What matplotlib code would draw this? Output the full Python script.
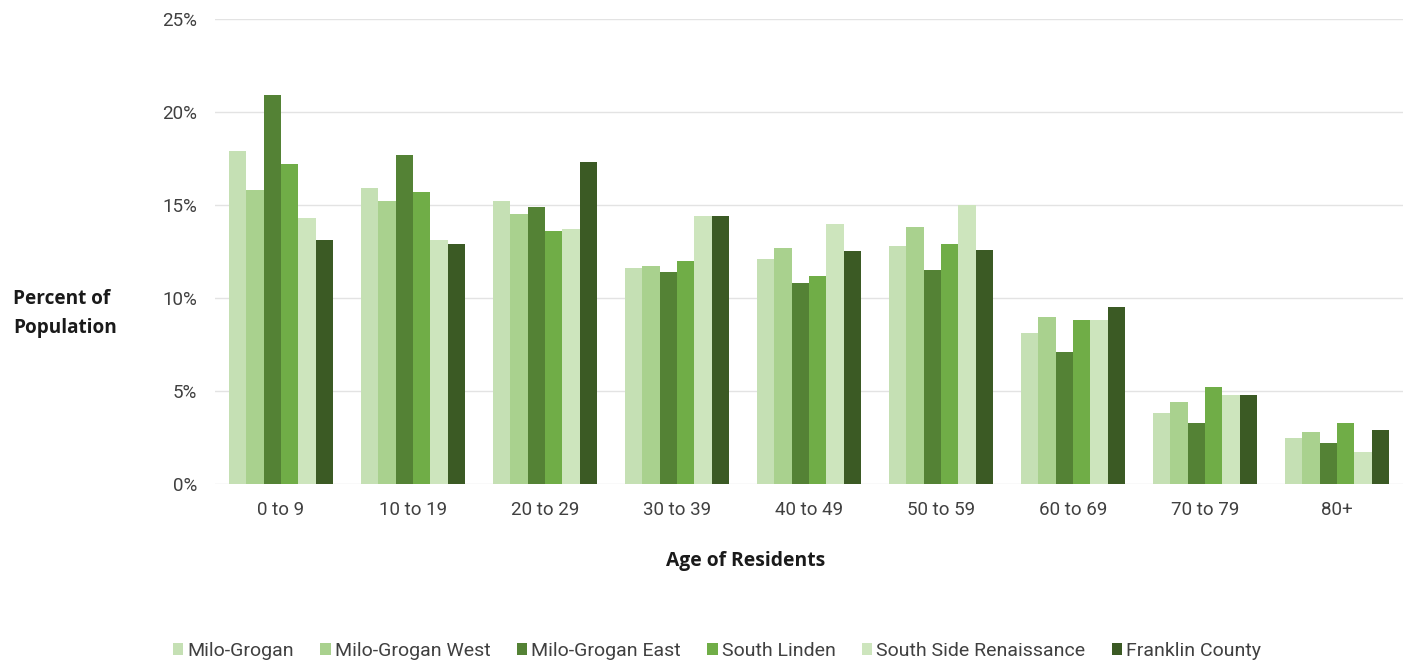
import numpy as np
import matplotlib.pyplot as plt
from matplotlib.ticker import FuncFormatter

# age groups and population share (%) per area
age_groups = ["0 to 9", "10 to 19", "20 to 29", "30 to 39", "40 to 49",
              "50 to 59", "60 to 69", "70 to 79", "80+"]
areas = ["Milo-Grogan", "Milo-Grogan West", "Milo-Grogan East",
         "South Linden", "South Side Renaissance", "Franklin County"]

milo_grogan = [17.9, 15.9, 15.2, 11.6, 12.1, 12.8, 8.1, 3.8, 2.5]
milo_grogan_west = [15.8, 15.2, 14.5, 11.7, 12.7, 13.8, 9.0, 4.4, 2.8]
milo_grogan_east = [20.9, 17.7, 14.9, 11.4, 10.8, 11.5, 7.1, 3.3, 2.2]
south_linden = [17.2, 15.7, 13.6, 12.0, 11.2, 12.9, 8.8, 5.2, 3.3]
south_side_ren = [14.3, 13.1, 13.7, 14.4, 14.0, 15.0, 8.8, 4.8, 1.7]
franklin_county = [13.1, 12.9, 17.3, 14.4, 12.5, 12.6, 9.5, 4.8, 2.9]

series = [milo_grogan, milo_grogan_west, milo_grogan_east,
          south_linden, south_side_ren, franklin_county]
colors = ["#c5e0b4", "#a9d18e", "#548235", "#70ad47", "#cde5bd", "#3b5a24"]

plt.rcParams.update({
    'font.family': ['Roboto', 'DejaVu Sans'],
    'text.color': '#404040',
    'xtick.color': '#404040',
    'ytick.color': '#404040',
})

fig = plt.figure(figsize=(14.06, 6.61), dpi=100)
ax = fig.add_axes([215 / 1406, 1 - 484 / 661, (1403 - 215) / 1406, (484 - 19) / 661])

x = np.arange(len(age_groups))
bw = 0.795 / len(series)
for i, (vals, name, col) in enumerate(zip(series, areas, colors)):
    offs = (i - (len(series) - 1) / 2) * bw
    ax.bar(x + offs, vals, width=bw, color=col, label=name, zorder=3)

ax.set_xlim(-0.5, len(age_groups) - 0.5)
ax.set_ylim(0, 25)
ax.set_yticks(np.arange(0, 26, 5))
ax.yaxis.set_major_formatter(FuncFormatter(lambda v, _: f"{v:.0f}%"))
ax.set_xticks(x)
ax.set_xticklabels(age_groups)
ax.tick_params(axis='both', length=0, labelsize=13.5)
ax.tick_params(axis='y', pad=13)
ax.tick_params(axis='x', pad=12)
ax.grid(axis='y', color='#e3e3e3', lw=1, zorder=0)
for s in ax.spines.values():
    s.set_visible(False)

fig.text(13 / 1406, 1 - 314 / 661, "Percent of\nPopulation", fontsize=13.7,
         fontweight='bold', family=['Open Sans', 'DejaVu Sans'], color='#1a1a1a',
         ha='left', va='center', linespacing=1.6)
fig.text(746 / 1406, 1 - 561 / 661, "Age of Residents", fontsize=13.9,
         fontweight='bold', family=['Open Sans', 'DejaVu Sans'], color='#1a1a1a',
         ha='center', va='center')

fig.legend(loc='center', bbox_to_anchor=(717 / 1406, 1 - 651 / 661), ncol=6,
           frameon=False, fontsize=14, handlelength=0.55, handleheight=0.55,
           handletextpad=0.2, columnspacing=1.35)

fig.savefig("out.png", dpi=100, facecolor='white')
